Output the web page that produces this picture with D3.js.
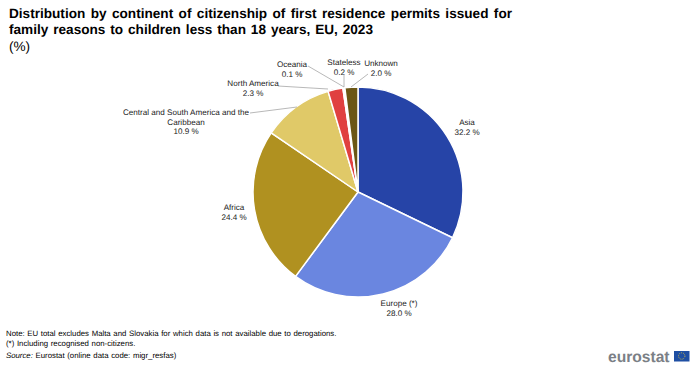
<!DOCTYPE html>
<html>
<head>
<meta charset="utf-8">
<script src="https://cdn.jsdelivr.net/npm/d3@7"></script>
<style>
body { margin: 0; background: #fff; }
text { font-family: "Liberation Sans", Arial, sans-serif; text-rendering: geometricPrecision; }
</style>
</head>
<body>
<div class="container"></div>
<script>
var width = 700;
var height = 367;

var categories = ['Asia', 'Europe (*)', 'Africa', 'Central and South America and the|Caribbean', 'North America', 'Oceania', 'Stateless', 'Unknown'];
var values = [32.2, 28.0, 24.4, 10.9, 2.3, 0.1, 0.2, 2.0];
var colors = ['#2644a7', '#6a86e0', '#b09120', '#e0c968', '#e04040', '#f5e3a0', '#f0e8c8', '#6b5614'];

var titleLines = ['Distribution by continent of citizenship of first residence permits issued for', 'family reasons to children less than 18 years, EU, 2023'];
var titleEnds = [512, 373];
var unitLine = '(%)';
var noteLines = ['Note: EU total excludes Malta and Slovakia for which data is not available due to derogations.', '(*) Including recognised non-citizens.'];

// label layout, pixels from the pie centre to the first text line
var labelPos = [[109, -70], [41, 111], [-124, 15], [-172, -80], [-105, -109], [-66, -128], [-14, -130], [23, -129]];
// leader lines for the small slices, same origin
var leaders = {
	3: [[-108, -79], [-61, -85]],
	4: [[-80, -106], [-30, -103]],
	5: [[-50, -126], [-14, -105]],
	6: [[-14, -117], [-14, -105]],
	7: [[10, -118], [-7, -105]]
};

var cx = 358;
var cy = 192;
var radius = 105;

var svg = d3.select('.container').append('svg')
	.attr('width', width)
	.attr('height', height);

var pie = d3.pie().sort(null).value(function(d) { return d; });
var arc = d3.arc().innerRadius(0).outerRadius(radius);

var pieGroup = svg.append('g').attr('transform', 'translate(' + cx + ',' + cy + ')');

pieGroup.selectAll('path')
	.data(pie(values))
	.enter()
	.append('path')
	.attr('d', arc)
	.attr('fill', function(d, i) { return colors[i]; })
	.attr('stroke', '#fff')
	.attr('stroke-width', 1.5)
	.attr('stroke-linejoin', 'round');

var line = d3.line();
Object.keys(leaders).forEach(function(k) {
	pieGroup.append('path')
		.attr('d', line(leaders[k]))
		.attr('fill', 'none')
		.attr('stroke', '#a6a6a6')
		.attr('stroke-width', 0.8);
});

categories.forEach(function(c, i) {
	var rows = c.split('|').concat([values[i].toFixed(1) + ' %']);
	var t = pieGroup.append('text')
		.attr('text-anchor', 'middle')
		.attr('font-size', 8.1)
		.attr('fill', '#222');
	rows.forEach(function(r, j) {
		t.append('tspan')
			.attr('x', labelPos[i][0])
			.attr('y', labelPos[i][1] + j * 9.5 + 3)
			.text(r);
	});
});

titleLines.forEach(function(l, i) {
	var t = svg.append('text')
		.attr('x', 9)
		.attr('y', 18 + i * 16)
		.attr('font-size', 13.6)
		.attr('font-weight', 'bold')
		.attr('fill', '#000')
		.text(l);
	// the title is justified, so spread the words to reach the right end
	var gap = (titleEnds[i] - 9 - t.node().getComputedTextLength()) / (l.split(' ').length - 1);
	t.attr('word-spacing', gap);
});
svg.append('text').attr('x', 9).attr('y', 51).attr('font-size', 13.6).attr('fill', '#000').text(unitLine);

noteLines.forEach(function(l, i) {
	svg.append('text')
		.attr('x', 6)
		.attr('y', 336 + i * 10)
		.attr('font-size', 7.8)
		.attr('word-spacing', 0.5)
		.attr('fill', '#000')
		.text(l);
});
var source = svg.append('text').attr('x', 6).attr('y', 358).attr('font-size', 7.8).attr('word-spacing', 0.5).attr('fill', '#000');
source.append('tspan').attr('font-style', 'italic').text('Source:');
source.append('tspan').text(' Eurostat (online data code: migr_resfas)');

// logo
svg.append('text')
	.attr('x', 608)
	.attr('y', 362)
	.attr('font-size', 15.6)
	.attr('font-weight', 'bold')
	.attr('fill', '#7b7f86')
	.text('eurostat');
svg.append('rect').attr('x', 674).attr('y', 351).attr('width', 15.5).attr('height', 10.5).attr('fill', '#1f4fa3');
svg.append('circle').attr('cx', 681.7).attr('cy', 356).attr('r', 3.2).attr('fill', 'none').attr('stroke', '#e8c832').attr('stroke-width', 0.8).attr('stroke-dasharray', '1 1');
</script>
</body>
</html>
